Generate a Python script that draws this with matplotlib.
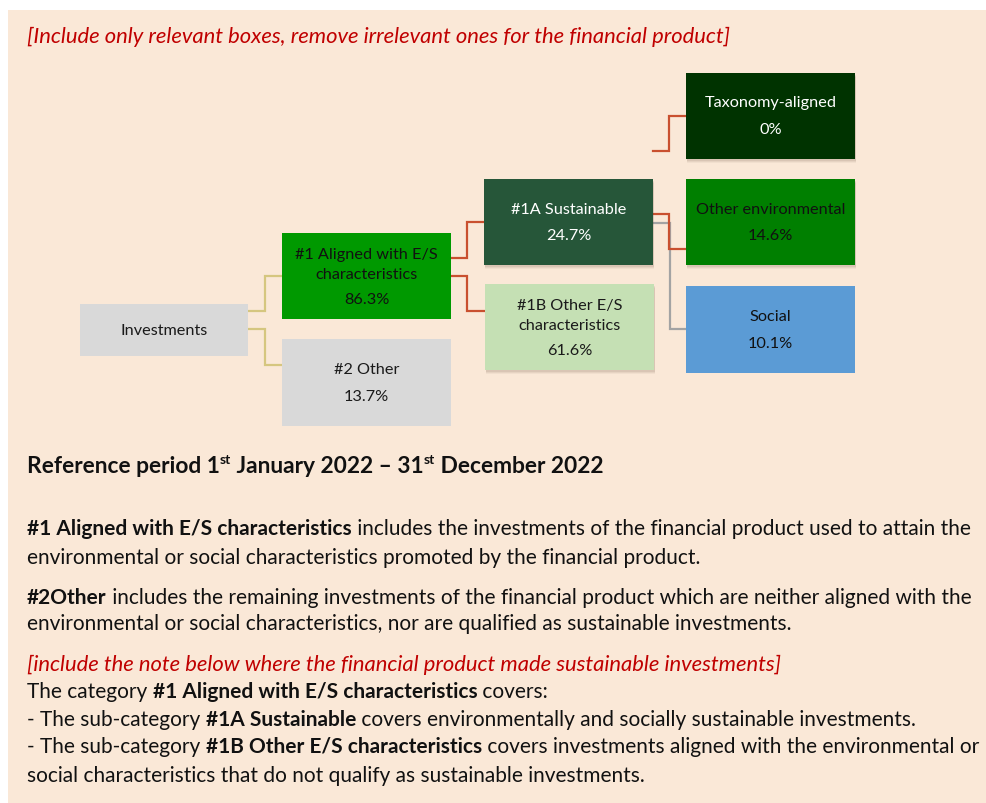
import matplotlib.pyplot as plt
from matplotlib.patches import Rectangle

plt.rcParams['font.family'] = ['Lato', 'DejaVu Sans']

# box contents
BOX_NAMES = ["Investments", "#1 Aligned with E/S\ncharacteristics", "#2 Other",
             "#1A Sustainable", "#1B Other E/S\ncharacteristics",
             "Taxonomy-aligned", "Other environmental", "Social"]
BOX_SHARES = [None, 86.3, 13.7, 24.7, 61.6, 0, 14.6, 10.1]

NOTE_TOP = "[Include only relevant boxes, remove irrelevant ones for the financial product]"
NOTE_MID = "[include the note below where the financial product made sustainable investments]"

# layout in pixels (x0, y0, x1, y1), fill, text colour, shadow
BOX_LAYOUT = [
    ((80, 305, 248, 357), "#d9d9d9", "#1a1a1a", False),
    ((282, 234, 451, 320), "#009900", "#111111", False),
    ((282, 340, 451, 427), "#d9d9d9", "#1a1a1a", False),
    ((484, 180, 653, 266), "#265639", "white", True),
    ((485, 285, 654, 371), "#c5e0b4", "#1a1a1a", True),
    ((686, 74, 855, 160), "#003300", "white", True),
    ((686, 180, 855, 266), "#007f00", "#111111", True),
    ((686, 287, 855, 374), "#5b9bd5", "#111111", False),
]

TAN = "#d5c67f"
RED = "#c9502f"
GREY = "#a3a3a3"
CONNECTORS = [
    ([(248, 312), (265, 312), (265, 277), (282, 277)], TAN),
    ([(248, 330), (265, 330), (265, 366), (282, 366)], TAN),
    ([(451, 259), (467, 259), (467, 223), (484, 223)], RED),
    ([(451, 277), (467, 277), (467, 312), (485, 312)], RED),
    ([(653, 152), (669, 152), (669, 117), (686, 117)], RED),
    ([(653, 224), (670, 224), (670, 330), (686, 330)], GREY),
    ([(653, 215), (669, 215), (669, 250), (686, 250)], RED),
]

BOLD = "bold"
REG = "normal"
RED_TXT = "#c00000"
PARAGRAPHS = [
    (529, [("#1 Aligned with E/S characteristics", BOLD),
           (" includes the investments of the financial product used to attain the", REG)]),
    (558, [("environmental or social characteristics promoted by the financial product.", REG)]),
    (598, [("#2Other", BOLD),
           (" includes the remaining investments of the financial product which are neither aligned with the", REG)]),
    (624, [("environmental or social characteristics, nor are qualified as sustainable investments.", REG)]),
    (692, [("The category ", REG), ("#1 Aligned with E/S characteristics", BOLD), (" covers:", REG)]),
    (720, [("- The sub-category ", REG), ("#1A Sustainable", BOLD),
           (" covers environmentally and socially sustainable investments.", REG)]),
    (747, [("- The sub-category ", REG), ("#1B Other E/S characteristics", BOLD),
           (" covers investments aligned with the environmental or", REG)]),
    (776, [("social characteristics that do not qualify as sustainable investments.", REG)]),
]

fig = plt.figure(figsize=(9.87, 8.04), dpi=100)
fig.patch.set_facecolor("white")
ax = fig.add_axes([0, 0, 1, 1])
ax.set_xlim(0, 987)
ax.set_ylim(804, 0)
ax.axis("off")
renderer = fig.canvas.get_renderer()

ax.add_patch(Rectangle((8, 11), 990, 800, facecolor="#fae8d7", edgecolor="none",
                       zorder=0, clip_on=False))

for pts, col in CONNECTORS:
    xs = [p[0] for p in pts]
    ys = [p[1] for p in pts]
    ax.plot(xs, ys, color=col, lw=1.6, solid_joinstyle="miter", zorder=1)

for name, share, (box, fc, tc, shadow) in zip(BOX_NAMES, BOX_SHARES, BOX_LAYOUT):
    x0, y0, x1, y1 = box
    if shadow:
        for k, a in [(4, 0.05), (3, 0.07), (2, 0.09)]:
            ax.add_patch(Rectangle((x0 + 1, y0 + k), x1 - x0, y1 - y0,
                                   facecolor="#5a4030", alpha=a, edgecolor="none", zorder=1.5))
    ax.add_patch(Rectangle((x0, y0), x1 - x0, y1 - y0, facecolor=fc, edgecolor="none", zorder=2))
    cx = (x0 + x1) / 2
    lines = name.split("\n")
    if share is not None:
        lines.append(f"{share:g}%")
    n = len(lines)
    cy = (y0 + y1) / 2
    if n == 1:
        ys = [cy]
    elif n == 2:
        ys = [cy - 13.5, cy + 13.5]
    else:
        ys = [cy - 22, cy - 2, cy + 23]
    for t, yy in zip(lines, ys):
        ax.text(cx, yy, t, ha="center", va="center", fontsize=11.7, color=tc, zorder=3)


def rich_line(x, y, pieces, size, color="#111111", style="normal"):
    for txt, weight in pieces:
        t = ax.text(x, y, txt, ha="left", va="center", fontsize=size, fontweight=weight,
                    color=color, style=style, zorder=3)
        bb = t.get_window_extent(renderer)
        x += bb.width
    return x


rich_line(27, 37, [(NOTE_TOP, REG)], 15.8, color=RED_TXT, style="italic")

# heading with superscripts
hx = 27
hx = rich_line(hx, 467, [("Reference period 1", BOLD)], 16.4)
hx = rich_line(hx, 460, [("st", BOLD)], 10)
hx = rich_line(hx, 467, [(" January 2022 \u2013 31", BOLD)], 16.4)
hx = rich_line(hx, 460, [("st", BOLD)], 10)
rich_line(hx, 467, [(" December 2022", BOLD)], 16.4)

for y, pieces in PARAGRAPHS:
    rich_line(27, y, pieces, 15.0)

rich_line(27, 665, [(NOTE_MID, REG)], 15.8, color=RED_TXT, style="italic")

fig.savefig("out.png", dpi=100, facecolor="white")
